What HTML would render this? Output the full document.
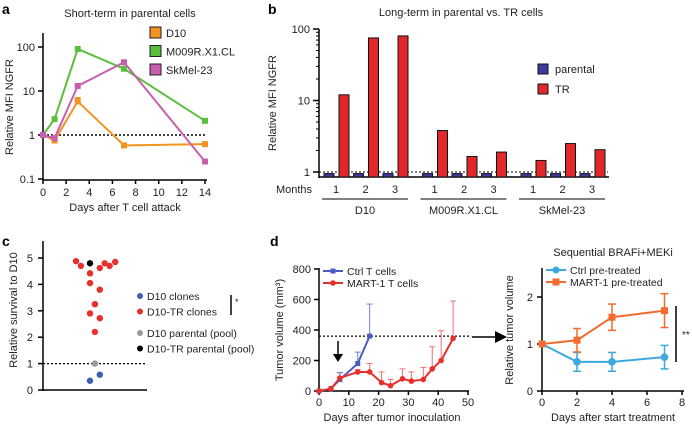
<!DOCTYPE html>
<html><head><meta charset="utf-8"><style>
body{margin:0;background:#fff}svg{display:block;font-family:"Liberation Sans",Arial,sans-serif}
</style></head><body>
<svg id="s" width="692" height="427" viewBox="0 0 692 427"></svg>
<script>
// Panel a data
const aDays=[0,1,3,7,14];
const aD10=[1,0.75,5.8,0.58,0.62];
const aM009=[1,2.3,90,32,2.1];
const aSk=[1,0.85,13,45,0.25];
const aTicksX=[0,2,4,6,8,10,12,14];
// Panel b data
const bGroups=["D10","M009R.X1.CL","SkMel-23"];
const bMonths=["1","2","3"];
const bParental=[[0.95,0.95,0.95],[0.95,0.95,0.95],[0.95,0.95,0.95]];
const bTR=[[12,75,80],[3.8,1.65,1.9],[1.45,2.5,2.05]];
// Panel c data (x = jitter, y = relative survival)
const cRedX=[-1,-0.65,0.7,1.05,1.4,1.8,0,0,0.7,0.35,0,0.7,0.35];
const cRedY=[4.88,4.7,4.62,4.8,4.7,4.85,4.42,4.05,3.8,3.25,2.9,2.72,2.2];
const cBlueX=[0,0.7];const cBlueY=[0.35,0.58];
const cGray=[0.35,1];const cBlack=[0,4.8];
// Panel d data
const dCtrlDays=[0,4,7,13,17];const dCtrl=[0,15,75,180,360];const dCtrlErr=[0,0,120,255,570];
const dMartDays=[0,4,7,13,17,21,24,28,31,35,38,41,45];
const dMart=[0,15,85,125,125,55,35,80,65,75,145,200,345];
const dMartErr=[0,0,120,140,180,125,75,145,125,155,290,395,590];
const eDays=[0,2,4,7];
const eCtrl=[1,0.62,0.62,0.72];const eCtrlE=[0,0.2,0.2,0.25];
const eMart=[1,1.08,1.57,1.71];const eMartE=[0,0.25,0.28,0.36];

const S=document.getElementById('s');const NS='http://www.w3.org/2000/svg';
function el(t,a,name,txt){const e=document.createElementNS(NS,t);for(const k in a)e.setAttribute(k,a[k]);


if(txt!==undefined)e.textContent=txt;S.appendChild(e);return e;}
function line(x1,y1,x2,y2,n,c,w,d){const o={x1,y1,x2,y2,stroke:c||'#000','stroke-width':w||1.5};if(d)o['stroke-dasharray']=d;return el('line',o,n);}
function text(x,y,s,n,o){o=Object.assign({x,y,'font-size':11,fill:'#222'},o||{});return el('text',o,n,s);}
function poly(pts,n,c,w){return el('polyline',{points:pts.map(p=>p.join(',')).join(' '),fill:'none',stroke:c,'stroke-width':w||2},n);}
function ytitle(x,y,s,n){return text(x,y,s,n,{transform:`rotate(-90 ${x} ${y})`,'text-anchor':'middle'});}

// ===== Panel a =====
const ax=d=>43+d*11.57, ay=v=>135-Math.log10(v)*44;
text(2,14,'a','panel-a-label',{'font-size':14,'font-weight':'bold',fill:'#000'});
text(130,17,'Short-term in parental cells','panel-a-title',{'text-anchor':'middle'});
line(43,33,43,180,'a-y-axis');line(43,180,207,180,'a-x-axis');
[[100,'100'],[10,'10'],[1,'1'],[0.1,'0.1']].forEach(t=>{line(38,ay(t[0]),43,ay(t[0]),'a-y-tick');text(35,ay(t[0])+4,t[1],'a-y-tick-label',{'text-anchor':'end'});});
aTicksX.forEach(d=>{line(ax(d),180,ax(d),184,'a-x-tick');text(ax(d),196,String(d),'a-x-tick-label',{'text-anchor':'middle'});});
text(125,211,'Days after T cell attack','a-x-title',{'text-anchor':'middle'});
ytitle(13,107,'Relative MFI NGFR','a-y-title');
line(43,ay(1),207,ay(1),'a-reference-line','#000',1.5,'2,2');
[[aD10,'#f39321','d10'],[aM009,'#5cbf3c','m009'],[aSk,'#c75fb0','skmel']].forEach(s=>{
 poly(aDays.map((d,i)=>[ax(d),ay(s[0][i])]),'a-line-'+s[2],s[1]);
 aDays.forEach((d,i)=>el('rect',{x:ax(d)-3,y:ay(s[0][i])-3,width:6,height:6,fill:s[1]},'a-point-'+s[2]));});
line(ax(3)-3,ay(7),ax(3)+3,ay(7),'a-errorbar','#f39321',1.5);
[['D10','#f39321'],['M009R.X1.CL','#5cbf3c'],['SkMel-23','#c75fb0']].forEach((l,i)=>{
 el('rect',{x:150,y:27+i*18.5,width:11,height:11,fill:l[1],stroke:'#222','stroke-width':1},'a-legend-swatch');
 text(166,37+i*18.5,l[0],'a-legend-label');});

// ===== Panel b =====
const by=v=>172-Math.log10(v)*71.5;
text(268,14,'b','panel-b-label',{'font-size':14,'font-weight':'bold',fill:'#000'});
text(461,16,'Long-term in parental vs. TR cells','panel-b-title',{'text-anchor':'middle'});
line(319,29,319,178,'b-y-axis');line(319,177,609,177,'b-x-axis');
[1,10,100].forEach(v=>{line(313,by(v),319,by(v),'b-y-major-tick');text(310,by(v)+4,String(v),'b-y-tick-label',{'text-anchor':'end'});});
[2,3,4,5,6,7,8,9,20,30,40,50,60,70,80,90].forEach(v=>line(316,by(v),319,by(v),'b-y-minor-tick','#000',1));
ytitle(276,103,'Relative MFI NGFR','b-y-title');
line(319,by(1),608,by(1),'b-reference-line','#000',1,'2,2');
text(294,193,'Months','b-months-label',{'text-anchor':'middle'});
bGroups.forEach((g,gi)=>{const gx=324+gi*98.5;
 bMonths.forEach((m,mi)=>{const x=gx+mi*29.5;
  el('rect',{x,y:by(bParental[gi][mi]),width:10,height:177-by(bParental[gi][mi]),fill:'#3a3aa0',stroke:'#111','stroke-width':1},'b-bar-parental');
  el('rect',{x:x+15,y:by(bTR[gi][mi]),width:10,height:177-by(bTR[gi][mi]),fill:'#e0282b',stroke:'#111','stroke-width':1},'b-bar-tr');
  text(x+12,193,m,'b-month-label',{'text-anchor':'middle'});});
 line(gx-2,199,gx+84,199,'b-group-underline','#000',1);
 text(gx+41,214,g,'b-group-label',{'text-anchor':'middle'});});
[['parental','#3a3aa0'],['TR','#e0282b']].forEach((l,i)=>{
 el('rect',{x:538,y:64+i*20,width:10,height:10,fill:l[1],stroke:'#111','stroke-width':1},'b-legend-swatch');
 text(555,73+i*20,l[0],'b-legend-label');});

// ===== Panel c =====
const cx=v=>90+v*14, cy=v=>390-v*26.4;
text(2,246,'c','panel-c-label',{'font-size':14,'font-weight':'bold',fill:'#000'});
line(43,241,43,391,'c-y-axis');line(42,390,147,390,'c-x-axis');
[0,1,2,3,4,5].forEach(v=>{line(38,cy(v),43,cy(v),'c-y-tick');text(33,cy(v)+4,String(v),'c-y-tick-label',{'text-anchor':'end'});});
ytitle(17,310,'Relative survival to D10','c-y-title');
line(43,cy(1),146,cy(1),'c-reference-line','#000',1.2,'2,2');
cRedX.forEach((x,i)=>el('circle',{cx:cx(x),cy:cy(cRedY[i]),r:3.2,fill:'#e8302b'},'c-point-d10-tr-clone'));
cBlueX.forEach((x,i)=>el('circle',{cx:cx(x),cy:cy(cBlueY[i]),r:3.2,fill:'#3c5fb0'},'c-point-d10-clone'));
el('circle',{cx:cx(cGray[0]),cy:cy(cGray[1]),r:3.2,fill:'#999'},'c-point-d10-parental');
el('circle',{cx:cx(cBlack[0]),cy:cy(cBlack[1]),r:3.2,fill:'#000'},'c-point-d10-tr-parental');
[['D10 clones','#3c5fb0'],['D10-TR clones','#e8302b'],['D10 parental (pool)','#999'],['D10-TR parental (pool)','#000']].forEach((l,i)=>{
 const y=296+i*15.5+(i>1?6:0);el('circle',{cx:140,cy:y,r:3,fill:l[1]},'c-legend-marker');
 text(147,y+4,l[0],'c-legend-label',{'font-size':10.5});});
line(231,295,231,315,'c-significance-bar','#000',1.5);text(235,305,'*','c-significance-star',{'font-size':9});

// ===== Panel d left =====
const dx=d=>319+d*2.98, dy=v=>391-v*0.1525;
text(270,246,'d','panel-d-label',{'font-size':14,'font-weight':'bold',fill:'#000'});
line(319,268,319,392,'d-y-axis');line(318,391,469,391,'d-x-axis');
[0,200,400,600,800].forEach(v=>{line(314,dy(v),319,dy(v),'d-y-tick');text(311,dy(v)+4,String(v),'d-y-tick-label',{'text-anchor':'end'});});
[0,10,20,30,40,50].forEach(v=>{line(dx(v),391,dx(v),395,'d-x-tick');text(dx(v),406,String(v),'d-x-tick-label',{'text-anchor':'middle'});});
text(392,421,'Days after tumor inoculation','d-x-title',{'text-anchor':'middle'});
ytitle(283,330,'Tumor volume (mm³)','d-y-title');
line(319,dy(360),470,dy(360),'d-threshold-line','#000',1.2,'2,2');
dMartDays.forEach((d,i)=>{if(dMartErr[i]>dMart[i]){line(dx(d),dy(dMart[i]),dx(d),dy(dMartErr[i]),'d-mart-error','#f07070',1);line(dx(d)-3,dy(dMartErr[i]),dx(d)+3,dy(dMartErr[i]),'d-mart-error-cap','#f07070',1);}});
dCtrlDays.forEach((d,i)=>{if(dCtrlErr[i]>dCtrl[i]){line(dx(d),dy(dCtrl[i]),dx(d),dy(dCtrlErr[i]),'d-ctrl-error','#7080d0',1);line(dx(d)-3,dy(dCtrlErr[i]),dx(d)+3,dy(dCtrlErr[i]),'d-ctrl-error-cap','#7080d0',1);}});
poly(dCtrlDays.map((d,i)=>[dx(d),dy(dCtrl[i])]),'d-ctrl-line','#4a5cc0',2);
dCtrlDays.forEach((d,i)=>el('rect',{x:dx(d)-2.5,y:dy(dCtrl[i])-2.5,width:5,height:5,fill:'#4a5cc0'},'d-ctrl-point'));
poly(dMartDays.map((d,i)=>[dx(d),dy(dMart[i])]),'d-mart-line','#e8302b',2);
dMartDays.forEach((d,i)=>el('circle',{cx:dx(d),cy:dy(dMart[i]),r:2.8,fill:'#e8302b'},'d-mart-point'));
line(338,341,338,356,'d-treatment-arrow-shaft','#000',1.5);el('polygon',{points:'333,354 343,354 338,362',fill:'#000'},'d-treatment-arrow-head');
line(323,271,343,271,'d-legend-ctrl-line','#4a5cc0',2);el('rect',{x:330.5,y:268.5,width:5,height:5,fill:'#4a5cc0'},'d-legend-ctrl-marker');text(347,275,'Ctrl T cells','d-legend-ctrl-label',{'font-size':10.5});
line(323,283,343,283,'d-legend-mart-line','#e8302b',2);el('circle',{cx:333,cy:283,r:2.8,fill:'#e8302b'},'d-legend-mart-marker');text(347,287,'MART-1 T cells','d-legend-mart-label',{'font-size':10.5});
line(472,337,498,337,'d-big-arrow-shaft','#000',1.5);el('polygon',{points:'495,331 507,337 495,343',fill:'#000'},'d-big-arrow-head');

// ===== Panel d right =====
const ex=d=>542+d*17.5, ey=v=>391-v*47;
text(613,256,'Sequential BRAFi+MEKi','e-title',{'text-anchor':'middle'});
line(542,268,542,392,'e-y-axis');line(541,391,684,391,'e-x-axis');
[0,1,2].forEach(v=>{line(537,ey(v),542,ey(v),'e-y-tick');text(533,ey(v)+4,String(v),'e-y-tick-label',{'text-anchor':'end'});});
[0,2,4,6,8].forEach(v=>{line(ex(v),391,ex(v),395,'e-x-tick');text(ex(v),406,String(v),'e-x-tick-label',{'text-anchor':'middle'});});
text(613,421,'Days after start treatment','e-x-title',{'text-anchor':'middle'});
ytitle(513,330,'Relative tumor volume','e-y-title');
[[eCtrl,eCtrlE,'#3ba9dc','ctrl'],[eMart,eMartE,'#f26a2e','mart']].forEach(s=>{
 eDays.forEach((d,i)=>{if(s[1][i]>0){line(ex(d),ey(s[0][i]-s[1][i]),ex(d),ey(s[0][i]+s[1][i]),'e-'+s[3]+'-error',s[2],1.5);
  line(ex(d)-4,ey(s[0][i]-s[1][i]),ex(d)+4,ey(s[0][i]-s[1][i]),'e-'+s[3]+'-error-cap',s[2],1.5);
  line(ex(d)-4,ey(s[0][i]+s[1][i]),ex(d)+4,ey(s[0][i]+s[1][i]),'e-'+s[3]+'-error-cap',s[2],1.5);}});
 poly(eDays.map((d,i)=>[ex(d),ey(s[0][i])]),'e-'+s[3]+'-line',s[2],2);});
eDays.forEach((d,i)=>el('circle',{cx:ex(d),cy:ey(eCtrl[i]),r:3.8,fill:'#3ba9dc'},'e-ctrl-point'));
eDays.forEach((d,i)=>el('rect',{x:ex(d)-3.5,y:ey(eMart[i])-3.5,width:7,height:7,fill:'#f26a2e'},'e-mart-point'));
line(546,270,566,270,'e-legend-ctrl-line','#3ba9dc',2);el('circle',{cx:556,cy:270,r:3.5,fill:'#3ba9dc'},'e-legend-ctrl-marker');text(570,274,'Ctrl pre-treated','e-legend-ctrl-label',{'font-size':10.5});
line(546,282,566,282,'e-legend-mart-line','#f26a2e',2);el('rect',{x:552.5,y:278.5,width:7,height:7,fill:'#f26a2e'},'e-legend-mart-marker');text(570,286,'MART-1 pre-treated','e-legend-mart-label',{'font-size':10.5});
line(676,306,676,362,'e-significance-bar','#000',1.5);text(682,338,'**','e-significance-stars',{'font-size':10});
</script>
</body></html>
